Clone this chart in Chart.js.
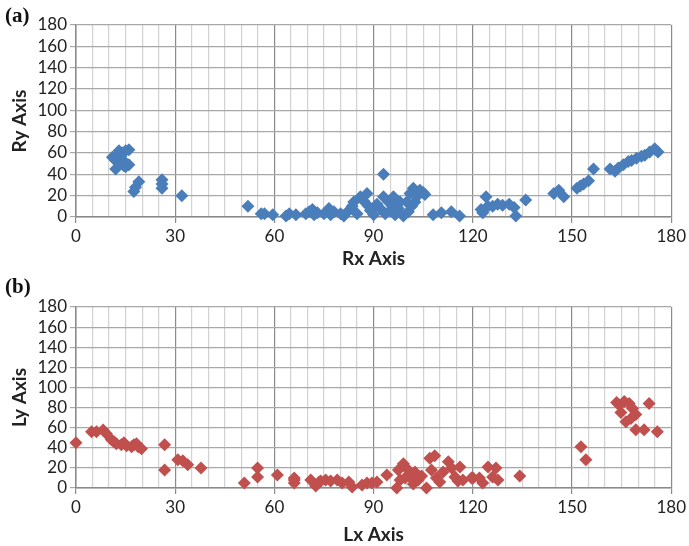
<!DOCTYPE html>
<html>
<head>
<meta charset="utf-8">
<script src="https://cdn.jsdelivr.net/npm/chart.js@4/dist/chart.umd.min.js"></script>
<style>
    body { margin: 0; background: #fff; }
    #wrap { position: relative; width: 689px; height: 546px; }
    .panel { position: absolute; left: 0; width: 689px; }
    .tag { position: absolute; left: 5px; font: bold 21px "Liberation Serif", serif; color: #111; }
</style>
</head>
<body>
<div id="wrap">
    <div class="panel" style="top:0;height:270px"><canvas id="chart-r" width="689" height="270"></canvas></div>
    <div class="panel" style="top:270px;height:276px"><canvas id="chart-l" width="689" height="276"></canvas></div>
    <div class="tag" style="top:3px">(a)</div>
    <div class="tag" style="top:274px">(b)</div>
</div>
<script>
// Dados do painel (a)
const rxValues = [11, 11.5, 12, 12, 12.5, 13, 13, 13.5, 14, 14, 14.5, 15, 15, 16, 16,
    17.5, 18, 19, 26, 26, 26, 32, 52, 56, 57, 59.5,
    63.5, 64.5, 66.5, 69.5, 70.5, 71.5, 72, 73, 75, 76.5, 77, 78, 80, 81, 82.5, 83.5, 84, 85,
    86, 87, 88, 88.5, 89, 90, 91, 92, 93, 93, 93.5, 94.5, 95, 96, 96.5, 97.5, 98, 99, 100,
    100.5, 101, 102, 102.5, 103, 104, 105, 105.5, 101.5, 97, 95.5, 108, 110.5, 113.5, 116,
    122.5, 123, 124, 124.5, 126, 127.5, 129, 131, 132.5, 133, 136, 144.5, 146, 147.5,
    151.5, 152.5, 153.5, 155, 156.5, 161.5, 163, 164, 165.5, 167, 168, 169.5, 171, 172,
    173.5, 175, 176];
const ryValues = [56, 55, 53, 45, 58, 50, 62, 57, 60, 54, 48, 62, 47, 63, 49,
    24, 28, 33, 35, 31, 27, 20, 10, 3, 3, 2,
    1, 3, 2, 3, 5, 7, 2, 4, 3, 8, 2, 5, 3, 1, 6, 10, 14, 3,
    19, 15, 22, 10, 6, 2, 12, 8, 40, 19, 3, 14, 6, 19, 2, 8, 14, 1, 14,
    5, 22, 27, 14, 19, 25, 23, 21, 10, 4, 11, 2, 4, 5, 1,
    7, 4, 19, 10, 10, 12, 11, 12, 9, 1, 16, 22, 25, 19,
    27, 29, 31, 34, 45, 45, 43, 46, 49, 52, 53, 55, 57, 58,
    61, 64, 61];

// Dados do painel (b)
const lxValues = [0, 4.7, 6.2, 8.2, 9.2, 10.7, 11.5, 12.2, 13.7, 14.5, 15.3, 16.8, 17.5, 18.3,
    18.8, 19.8, 26.8, 26.8, 30.8, 32.3, 33.8, 37.8, 50.9, 54.9, 54.9, 60.9,
    66, 66, 66, 71, 72.5, 73.5, 74, 75.5, 77, 79, 80.5, 82.5, 83.5, 86.5, 88, 89.5, 91, 94,
    97, 97.5, 98, 99, 99.5, 100.5, 101, 102, 102.5, 103.5, 104.5, 106, 107, 107.5, 108.5,
    109, 110, 111, 112.6, 113.6, 114.6, 115.5, 116.1, 117, 119.6, 120.1, 122, 123, 124.6,
    126, 127, 127.6, 134.2, 152.7, 154.2, 163.5, 164.3, 164.8, 165.8, 166.3, 167.3, 167.8,
    168.3, 169.3, 169.3, 171.8, 173.3, 175.8];
const lyValues = [45, 56, 56, 57.7, 54, 48, 46, 44, 43, 45, 42, 41, 43, 44,
    41, 39, 43, 18, 28, 27, 23, 20, 5, 20, 11, 13,
    8, 5, 10, 8, 2, 6, 7, 8, 7, 8, 5, 6, 1, 3, 5, 5, 6, 13,
    0, 18, 8, 24, 10, 18, 11, 4, 16, 8, 12, 0, 29.5, 18, 32,
    10, 6, 16, 26, 20, 11, 7, 21, 8, 10, 10, 10, 5, 21,
    11, 20, 8, 12, 41, 28, 85, 82.5, 75, 86, 66, 84, 69,
    79, 73, 58, 58, 84, 56];

// Eixos
const axisMin = 0;
const axisMax = 180;
const xStep = 5;
const xMajorStep = 30;
const yStep = 20;

const tickFont = { family: 'Lato, "Open Sans", sans-serif', size: 17 };
const titleFont = { family: 'Lato, "Open Sans", sans-serif', size: 19, weight: 'bold' };

function toPoints(xs, ys) {
    return xs.map((x, i) => ({ x: x, y: ys[i] }));
}

// Monta um painel de dispersão
function createScatter(canvasId, xs, ys, color, xTitle, yTitle, top, xHeight) {
    const ctx = document.getElementById(canvasId).getContext('2d');
    return new Chart(ctx, {
        type: 'scatter',
        data: {
            datasets: [{
                data: toPoints(xs, ys),
                pointStyle: 'rectRot',
                pointRadius: 6.5,
                pointHoverRadius: 6.5,
                backgroundColor: color,
                borderColor: color,
                borderWidth: 0,
                clip: false
            }]
        },
        options: {
            responsive: false,
            animation: false,
            events: [],
            layout: { padding: { left: 0, right: 15, top: top, bottom: 0 } },
            plugins: { legend: { display: false }, tooltip: { enabled: false } },
            scales: {
                x: {
                    type: 'linear',
                    min: axisMin,
                    max: axisMax,
                    afterFit: function(scale) { scale.height = xHeight; },
                    ticks: {
                        stepSize: xStep,
                        autoSkip: false,
                        maxRotation: 0,
                        padding: 3,
                        color: '#222',
                        font: tickFont,
                        callback: function(value) {
                            return value % xMajorStep === 0 ? value : '';
                        }
                    },
                    grid: {
                        color: function(c) {
                            return c.tick && c.tick.value % xMajorStep === 0 ? '#8a8a8a' : '#d2d2d2';
                        },
                        tickColor: function(c) {
                            return c.tick && c.tick.value % xMajorStep === 0 ? '#8a8a8a' : 'rgba(0,0,0,0)';
                        },
                        lineWidth: 1.2,
                        tickLength: 6
                    },
                    border: { color: '#8a8a8a', width: 1.5 },
                    title: { display: true, text: xTitle, color: '#222', font: titleFont, padding: { top: 0, bottom: 0 } }
                },
                y: {
                    min: axisMin,
                    max: axisMax,
                    afterFit: function(scale) { scale.width = 76; },
                    ticks: { stepSize: yStep, autoSkip: false, padding: 3, color: '#222', font: tickFont },
                    grid: { color: '#a8a8a8', lineWidth: 1.2, tickLength: 6 },
                    border: { color: '#8a8a8a', width: 1.5 },
                    title: { display: true, text: yTitle, color: '#222', font: titleFont, padding: { top: 8, bottom: 0 } }
                }
            }
        }
    });
}

createScatter('chart-r', rxValues, ryValues, '#4a7ebb', 'Rx Axis', 'Ry Axis', 25, 53);
createScatter('chart-l', lxValues, lyValues, '#c0504d', 'Lx Axis', 'Ly Axis', 37, 58);
</script>
</body>
</html>
